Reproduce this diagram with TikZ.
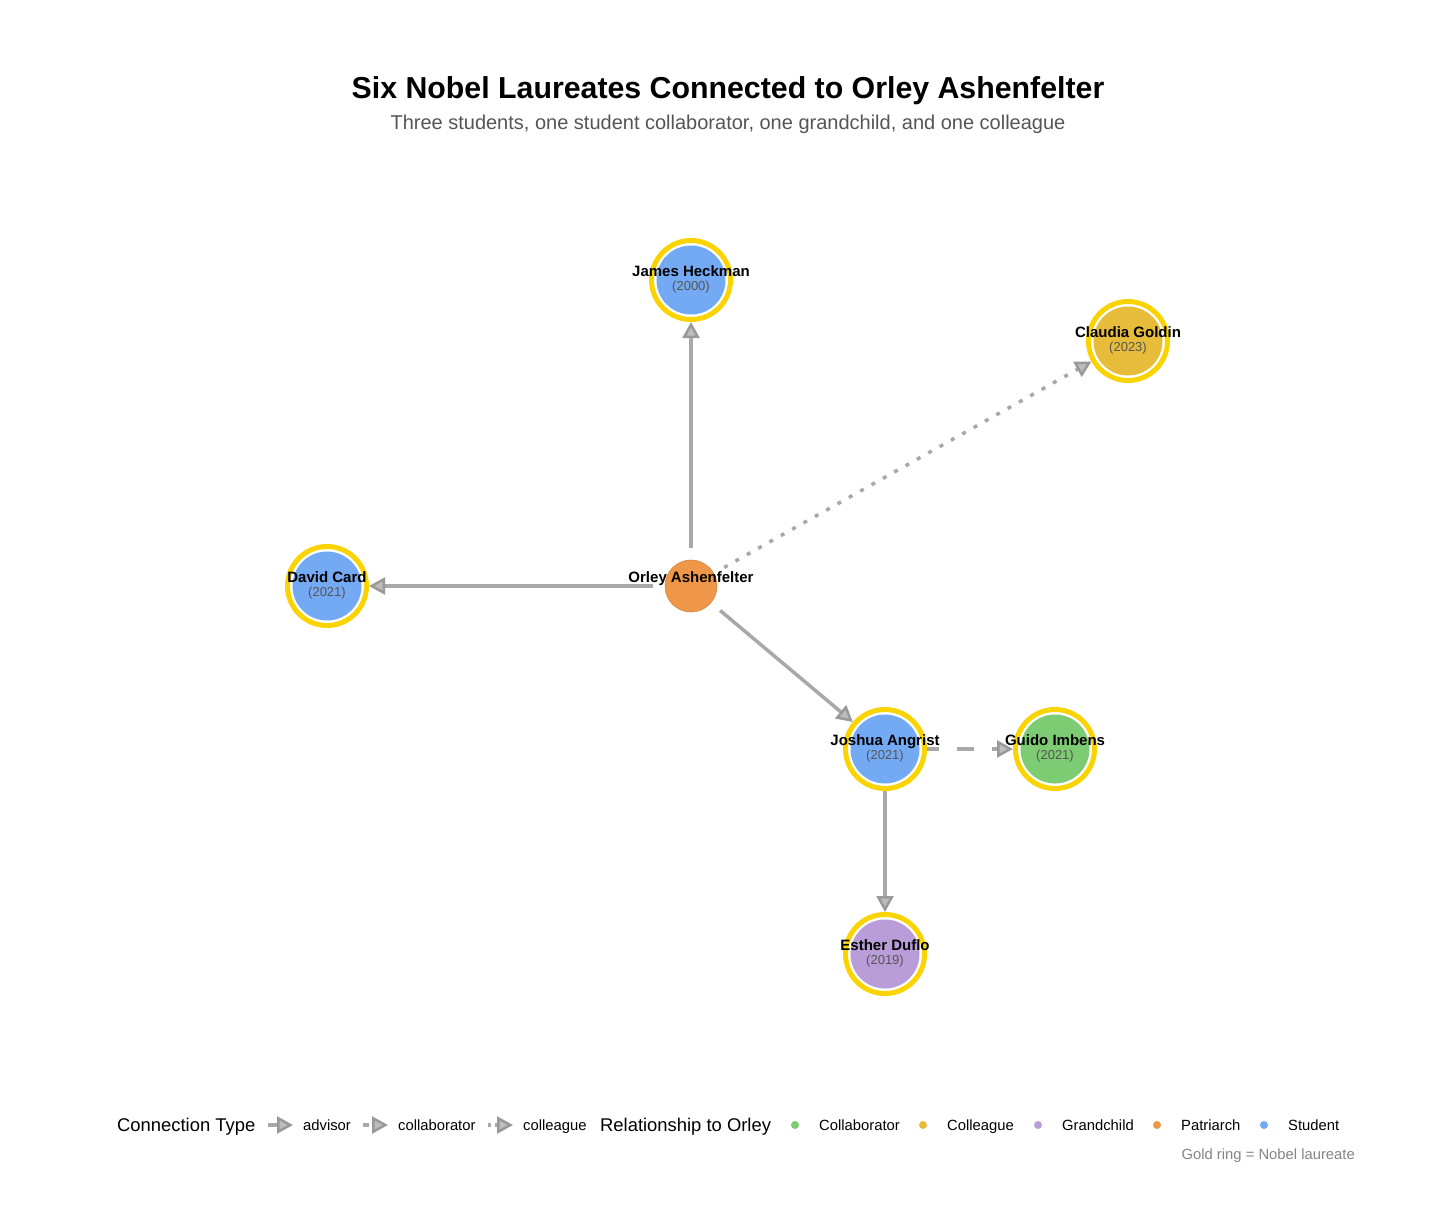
\documentclass[tikz,border=0pt]{standalone}
\usepackage{fontspec}
\setmainfont{Liberation Sans}
\usetikzlibrary{arrows.meta}
\definecolor{student}{HTML}{74A9F4}
\definecolor{collab}{HTML}{7DCB73}
\definecolor{colleague}{HTML}{E6BC3A}
\definecolor{grandchild}{HTML}{BA9DD8}
\definecolor{patriarch}{HTML}{EE9748}
\definecolor{ringgold}{HTML}{FAD400}
\definecolor{edgegray}{HTML}{A8A8A8}
\definecolor{tipgray}{HTML}{999999}
\definecolor{tipfill}{HTML}{BDBDBD}
\definecolor{subgray}{HTML}{555555}
\definecolor{capgray}{HTML}{858585}
\tikzset{
  laureate/.style={circle, minimum size=79pt, inner sep=0pt, draw=ringgold,
    line width=5pt, fill=white,
    path picture={\fill[#1] (path picture bounding box.center) circle (34.5pt);}},
  patri/.style={circle, minimum size=52pt, inner sep=0pt, fill=patriarch,
    draw=patriarch!90!black, line width=0.6pt, outer sep=12pt},
  namelbl/.style={anchor=base, inner sep=0pt, font=\fontsize{15}{17}\selectfont\bfseries},
  yearlbl/.style={anchor=base, inner sep=0pt, text=subgray, font=\fontsize{13}{15}\selectfont},
  link/.style={draw=edgegray, line width=3.5pt,
    -{Triangle[length=16pt,width=17pt,line width=2.5pt,color=tipgray,fill=tipfill]}},
  advisorlink/.style={link},
  collablink/.style={link, dash pattern=on 17pt off 18pt, dash phase=5pt},
  colleaguelink/.style={link, dash pattern=on 4pt off 9pt},
  legtitle/.style={anchor=base west, inner sep=0pt, font=\fontsize{18.4}{21}\selectfont},
  legtext/.style={anchor=base west, inner sep=0pt, font=\fontsize{14.8}{17}\selectfont},
  legdot/.style={circle, minimum size=8pt, inner sep=0pt},
}
\begin{document}
\begin{tikzpicture}[x=1pt,y=-1pt]
\fill[white] (0,0) rectangle (1456,1213);
\useasboundingbox (0,0) rectangle (1456,1213);

% title
\node[anchor=base, inner sep=0pt, font=\fontsize{30.3}{34}\selectfont\bfseries] (title) at (728,98.7)
  {Six Nobel Laureates Connected to Orley Ashenfelter};
\node[anchor=base, inner sep=0pt, text=subgray, font=\fontsize{20}{24}\selectfont] (subtitle) at (728,129)
  {Three students, one student collaborator, one grandchild, and one colleague};

% nodes
\node[patri] (orley) at (691,586) {};
\node[laureate=student] (heckman) at (691,280) {};
\node[laureate=colleague] (goldin) at (1128,341) {};
\node[laureate=student] (card) at (327,586) {};
\node[laureate=student] (angrist) at (885,749) {};
\node[laureate=collab] (imbens) at (1055,749) {};
\node[laureate=grandchild] (duflo) at (885,954) {};

% edges
\draw[advisorlink] (orley) -- (heckman);
\draw[advisorlink] (orley) -- (card);
\draw[advisorlink] (orley) -- (angrist);
\draw[colleaguelink] (orley) -- (goldin);
\draw[collablink] (angrist) -- (imbens);
\draw[advisorlink] (angrist) -- (duflo);

% labels
\node[namelbl] (orley-name) at (691,582.7) {Orley Ashenfelter};
\node[namelbl] (heckman-name) at (691,276.5) {James Heckman};
\node[yearlbl] (heckman-year) at (691,290) {(2000)};
\node[namelbl] (goldin-name) at (1128,337.5) {Claudia Goldin};
\node[yearlbl] (goldin-year) at (1128,351) {(2023)};
\node[namelbl] (card-name) at (327,582.5) {David Card};
\node[yearlbl] (card-year) at (327,596) {(2021)};
\node[namelbl] (angrist-name) at (885,745.5) {Joshua Angrist};
\node[yearlbl] (angrist-year) at (885,759) {(2021)};
\node[namelbl] (imbens-name) at (1055,745.5) {Guido Imbens};
\node[yearlbl] (imbens-year) at (1055,759) {(2021)};
\node[namelbl] (duflo-name) at (885,950.5) {Esther Duflo};
\node[yearlbl] (duflo-year) at (885,964) {(2019)};

% legend
\node[legtitle] (lt1) at (117,1131.5) {Connection Type};
\coordinate (k1a) at (268,1125); \coordinate (k1b) at (293,1125);
\draw[advisorlink] (k1a) -- (k1b);
\node[legtext] (l1) at (303,1130.4) {advisor};
\coordinate (k2a) at (363,1125); \coordinate (k2b) at (388,1125);
\draw[link, dash pattern=on 6pt off 3pt] (k2a) -- (k2b);
\node[legtext] (l2) at (398,1130.4) {collaborator};
\coordinate (k3a) at (488,1125); \coordinate (k3b) at (513,1125);
\draw[link, dash pattern=on 3pt off 4pt] (k3a) -- (k3b);
\node[legtext] (l3) at (523,1130.4) {colleague};

\node[legtitle] (lt2) at (600,1131.5) {Relationship to Orley};
\node[legdot, fill=collab] (d1) at (795,1125) {};
\node[legtext] (r1) at (819,1130.4) {Collaborator};
\node[legdot, fill=colleague] (d2) at (923,1125) {};
\node[legtext] (r2) at (947,1130.4) {Colleague};
\node[legdot, fill=grandchild] (d3) at (1038,1125) {};
\node[legtext] (r3) at (1062,1130.4) {Grandchild};
\node[legdot, fill=patriarch] (d4) at (1157,1125) {};
\node[legtext] (r4) at (1181,1130.4) {Patriarch};
\node[legdot, fill=student] (d5) at (1264,1125) {};
\node[legtext] (r5) at (1288,1130.4) {Student};

\node[anchor=base east, inner sep=0pt, text=capgray, font=\fontsize{14.8}{17}\selectfont] (caption) at (1355,1159.5)
  {Gold ring = Nobel laureate};
\end{tikzpicture}
\end{document}
